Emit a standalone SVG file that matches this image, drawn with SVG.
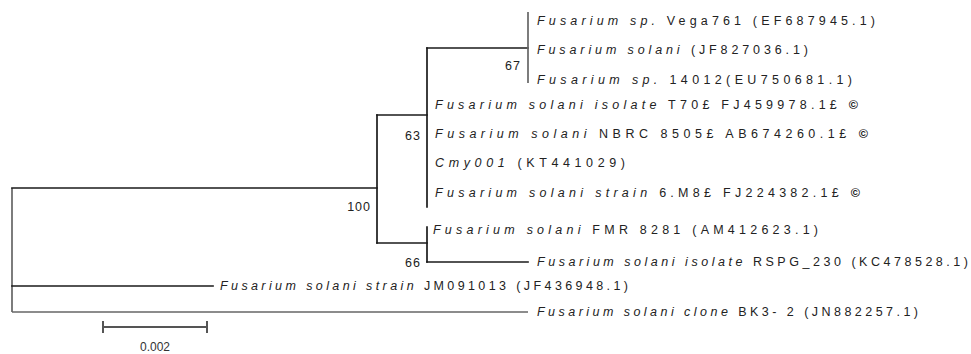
<svg xmlns="http://www.w3.org/2000/svg" width="971" height="354" viewBox="0 0 971 354">
<style>
.br{stroke:#1a1a1a;stroke-width:1.7;fill:none;stroke-linecap:square}
.gr{stroke:#666;stroke-width:1.7;fill:none}
.lb{font-family:"Liberation Sans",Arial,sans-serif;font-size:12.5px;fill:#222}
.it{font-style:italic}
.cp{font-weight:bold;fill:#111}
.bs{font-family:"Liberation Sans",Arial,sans-serif;font-size:12.5px;fill:#222;text-anchor:end;letter-spacing:1px}
.sc{font-family:"Liberation Sans",Arial,sans-serif;font-size:12px;fill:#333;text-anchor:middle}
</style>
<rect width="971" height="354" fill="#fff"/>
<g id="connectors">
<path class="gr" d="M12 188V312"/>
<path class="br" d="M12 188H377"/>
<path class="br" d="M377 115V243"/>
<path class="br" d="M377 115H427"/>
<path class="br" d="M427 48V207"/>
<path class="br" d="M427 48H528"/>
<path class="gr" d="M528 12V83"/>
<path class="br" d="M377 243H427"/>
<path class="br" d="M427 227V262"/>
<path class="br" d="M427 262H528"/>
<path class="br" d="M12 286H213"/>
<path class="gr" d="M12 312H528"/>
</g>
<g id="bootstrap">
<text class="bs" x="521" y="70">67</text>
<text class="bs" x="421" y="140">63</text>
<text class="bs" x="371" y="211">100</text>
<text class="bs" x="421" y="267">66</text>
</g>
<g id="n1"><text class="lb" x="537" y="25" textLength="338" lengthAdjust="spacing"><tspan class="it">Fusarium sp.</tspan> Vega761 (EF687945.1)</text></g>
<g id="n2"><text class="lb" x="537" y="54" textLength="271" lengthAdjust="spacing"><tspan class="it">Fusarium solani</tspan> (JF827036.1)</text></g>
<g id="n3"><text class="lb" x="537" y="84" textLength="315" lengthAdjust="spacing"><tspan class="it">Fusarium sp.</tspan> 14012(EU750681.1)</text></g>
<g id="n4"><text class="lb" x="435" y="109" textLength="423" lengthAdjust="spacing"><tspan class="it">Fusarium solani isolate</tspan> T70£ FJ459978.1£ <tspan class="cp">©</tspan></text></g>
<g id="n5"><text class="lb" x="435" y="138" textLength="433" lengthAdjust="spacing"><tspan class="it">Fusarium solani</tspan> NBRC 8505£ AB674260.1£ <tspan class="cp">©</tspan></text></g>
<g id="n6"><text class="lb" x="435" y="167" textLength="190" lengthAdjust="spacing"><tspan class="it">Cmy001</tspan> (KT441029)</text></g>
<g id="n7"><text class="lb" x="435" y="197" textLength="425" lengthAdjust="spacing"><tspan class="it">Fusarium solani strain</tspan> 6.M8£ FJ224382.1£ <tspan class="cp">©</tspan></text></g>
<g id="n8"><text class="lb" x="433" y="234" textLength="385" lengthAdjust="spacing"><tspan class="it">Fusarium solani</tspan> FMR 8281 (AM412623.1)</text></g>
<g id="n9"><text class="lb" x="537" y="266" textLength="431" lengthAdjust="spacing"><tspan class="it">Fusarium solani isolate</tspan> RSPG_230 (KC478528.1)</text></g>
<g id="n10"><text class="lb" x="220" y="290" textLength="408" lengthAdjust="spacing"><tspan class="it">Fusarium solani strain</tspan> JM091013 (JF436948.1)</text></g>
<g id="n11"><text class="lb" x="537" y="316" textLength="381" lengthAdjust="spacing"><tspan class="it">Fusarium solani clone</tspan> BK3- 2 (JN882257.1)</text></g>
<g id="scale">
<path d="M103 327H207M103 321V333M207 321V333" stroke="#555" stroke-width="2" fill="none"/>
<text class="sc" x="155" y="351">0.002</text>
</g>
</svg>
